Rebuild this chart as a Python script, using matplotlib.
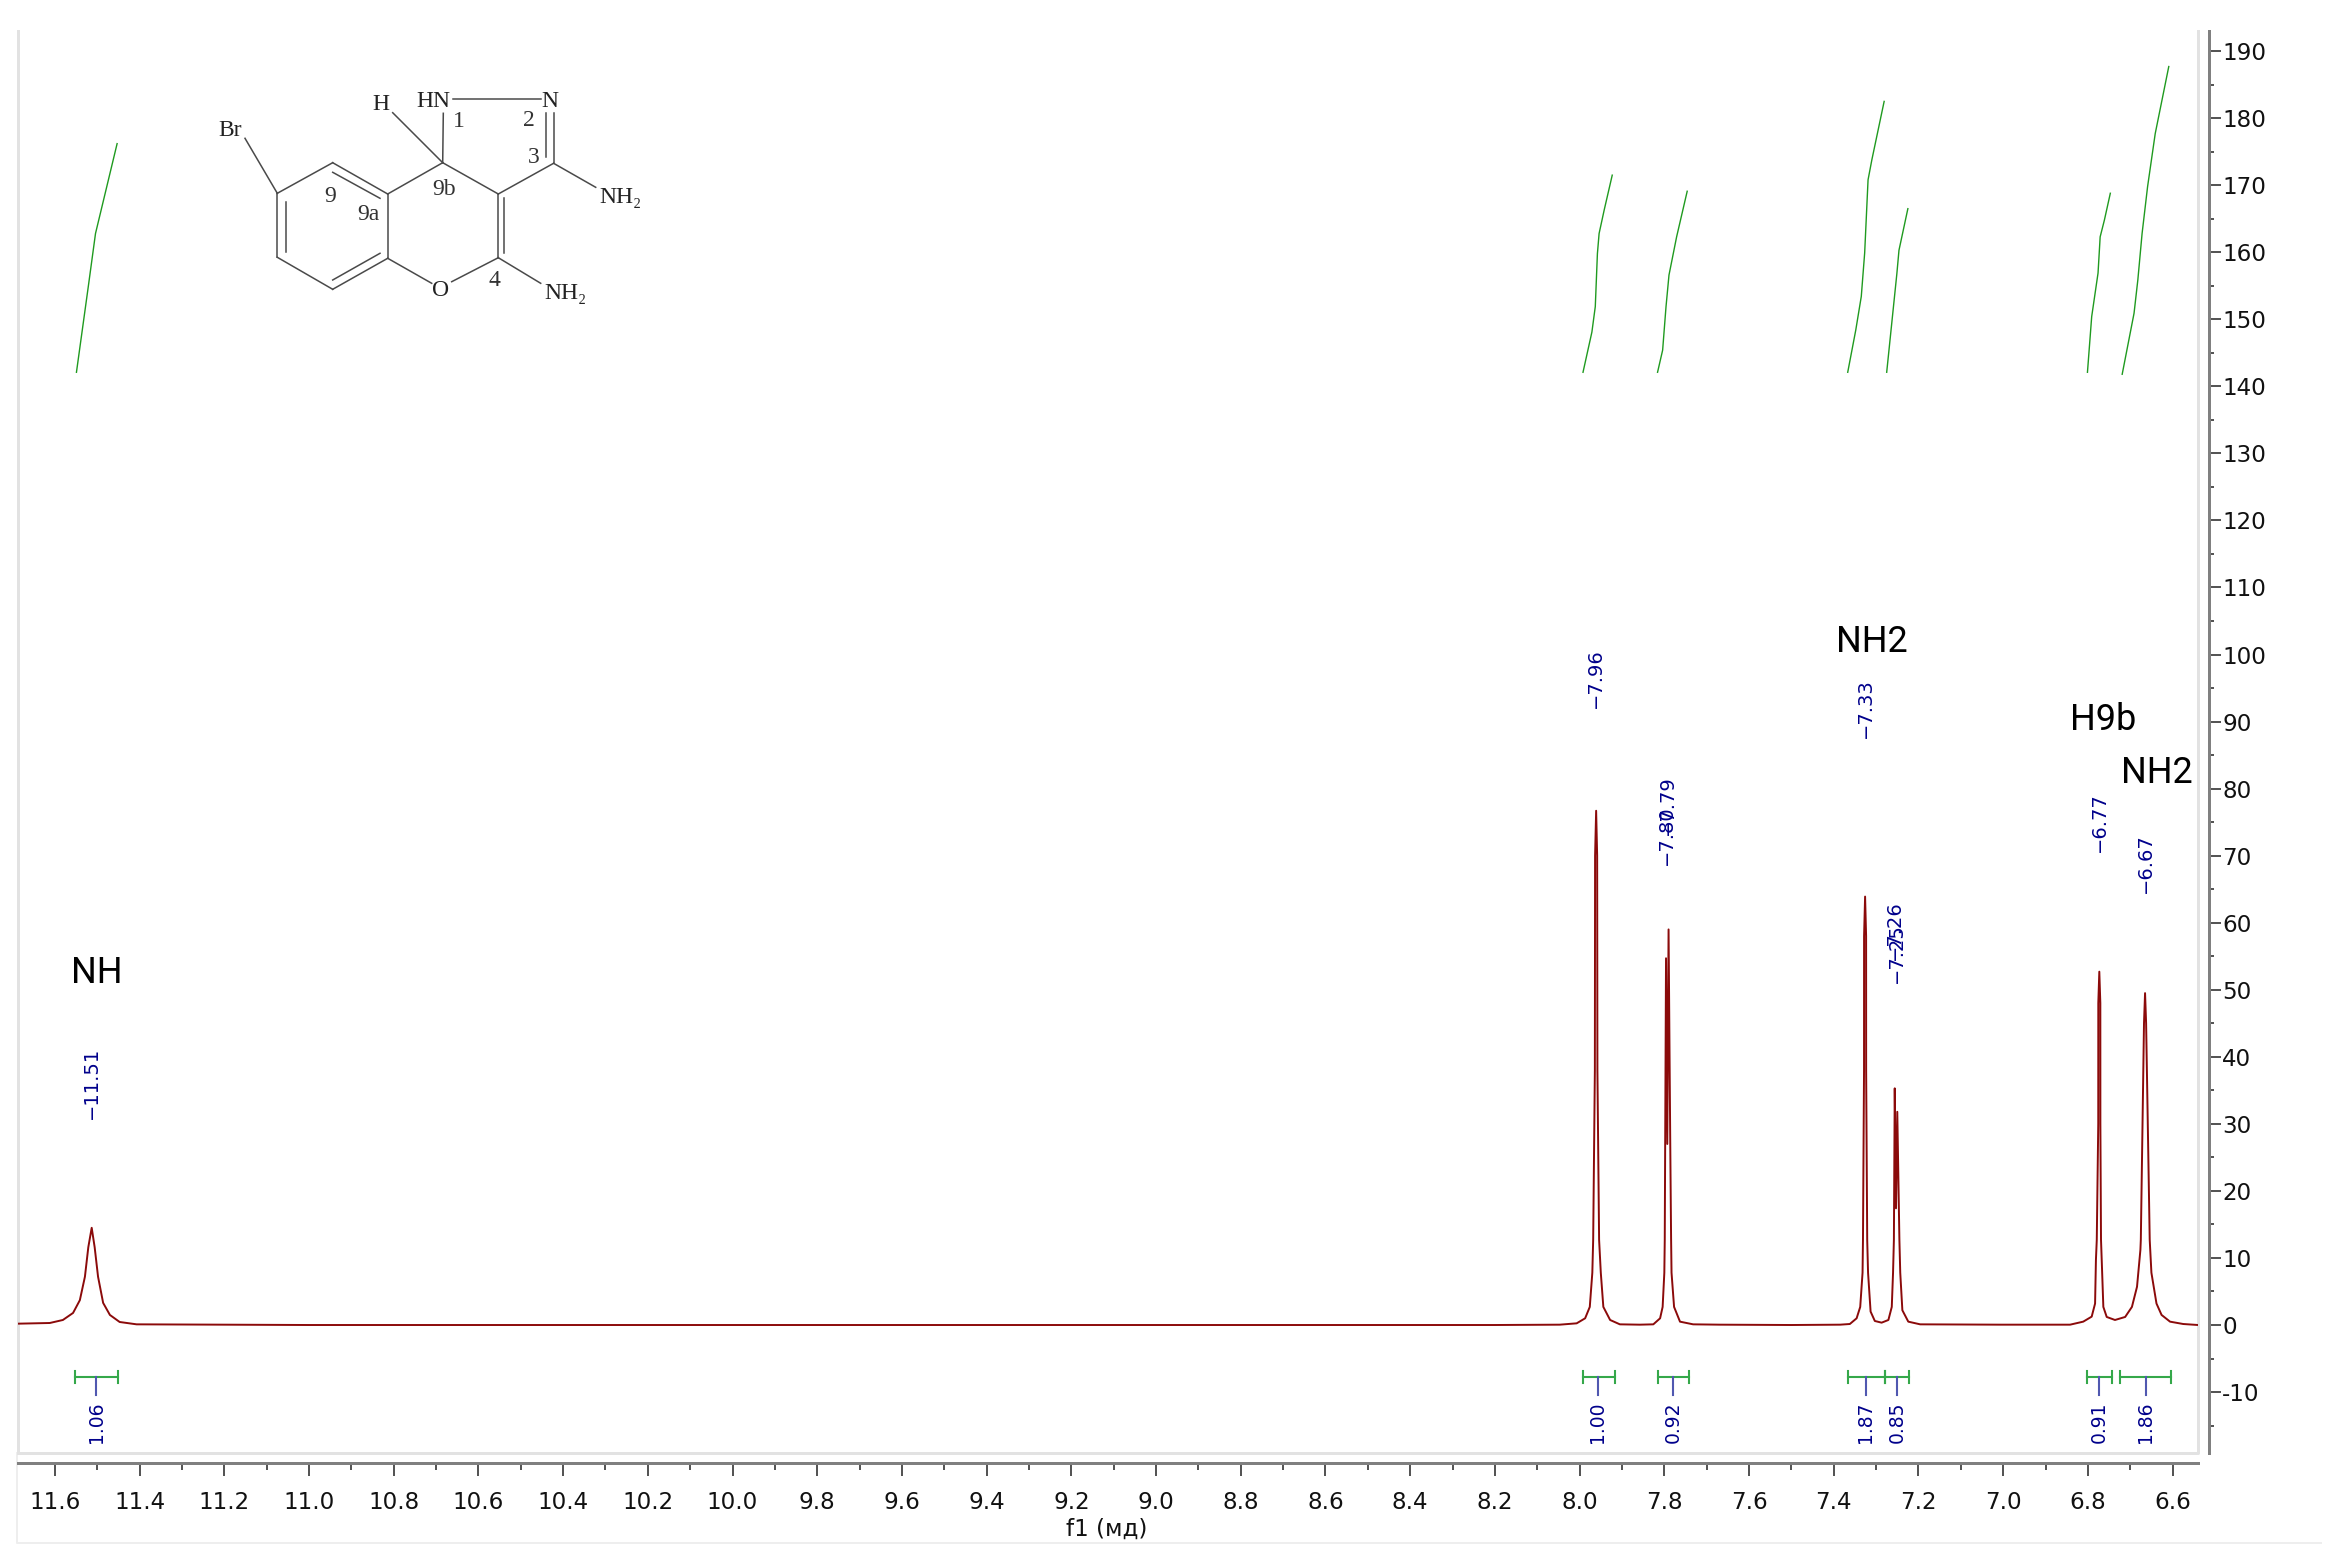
import matplotlib
matplotlib.use("Agg")
import matplotlib.pyplot as plt

W, H = 2339, 1566
DPI = 100

# ---------- spectrum ----------
spec_ppm = [11.687, 11.612, 11.581, 11.557, 11.541, 11.529, 11.521, 11.513, 11.506, 11.498, 11.486, 11.470, 11.447, 11.407, 11.0, 10.0, 9.0, 8.2,
            8.047, 8.007, 7.987, 7.976, 7.970, 7.968, 7.964, 7.9635, 7.961, 7.9586, 7.958, 7.954, 7.950, 7.944, 7.928, 7.905, 7.858,
            7.826, 7.810, 7.804, 7.800, 7.799, 7.798, 7.796, 7.793, 7.790, 7.786, 7.784, 7.783, 7.777, 7.763, 7.732, 7.669, 7.5,
            7.385, 7.362, 7.346, 7.3375, 7.332, 7.331, 7.3285, 7.3284, 7.326, 7.3236, 7.3235, 7.321, 7.319, 7.313, 7.303, 7.287, 7.271,
            7.263, 7.260, 7.258, 7.256, 7.253, 7.250, 7.245, 7.243, 7.238, 7.224, 7.196, 7.007,
            6.842, 6.811, 6.791, 6.783, 6.781, 6.779, 6.7755, 6.7754, 6.773, 6.7706, 6.7705, 6.769, 6.7665, 6.7635, 6.7555, 6.736,
            6.712, 6.696, 6.684, 6.676, 6.675, 6.6675, 6.665, 6.6625, 6.654, 6.650, 6.638, 6.626, 6.606, 6.575, 6.540]
spec_int = [0.2, 0.3, 0.75, 1.8, 3.7, 7.2, 11.6, 14.5, 11.6, 7.2, 3.3, 1.5, 0.45, 0.1, 0.0, 0.0, 0.0, 0.0,
            0.05, 0.25, 1.0, 2.7, 7.8, 12.7, 38, 70, 76.7, 70, 38, 12.7, 7.8, 2.7, 0.75, 0.1, 0.05,
            0.1, 1.0, 2.7, 7.8, 12.7, 27, 54.7, 27, 59, 27, 12.7, 7.8, 2.7, 0.5, 0.1, 0.05, 0.0,
            0.05, 0.15, 1.0, 2.7, 7.8, 12.7, 38, 58, 63.9, 58, 38, 12.7, 7.8, 2.0, 0.6, 0.35, 0.75,
            2.7, 7.8, 12.7, 35.3, 17.4, 31.8, 12.7, 7.8, 2.2, 0.5, 0.1, 0.05,
            0.05, 0.5, 1.25, 3.2, 9.7, 12.7, 30, 48, 52.7, 48, 30, 12.7, 8.2, 2.7, 1.2, 0.75,
            1.2, 2.7, 5.7, 11.2, 12.7, 45, 49.5, 45, 12.7, 7.8, 3.2, 1.5, 0.5, 0.15, 0.0]

# ---------- integral curves ----------
int_a_ppm = [11.549, 11.521, 11.504, 11.453]
int_a_val = [142.1, 154.9, 162.8, 176.2]
int_b_ppm = [7.992, 7.971, 7.963, 7.958, 7.954, 7.942, 7.923]
int_b_val = [142.1, 148.1, 151.9, 159.8, 162.8, 166.3, 171.5]
int_c_ppm = [7.816, 7.804, 7.796, 7.789, 7.771, 7.746]
int_c_val = [142.1, 145.4, 151.9, 156.6, 162.3, 169.1]
int_d_ppm = [7.367, 7.348, 7.335, 7.327, 7.319, 7.310, 7.281]
int_d_val = [142.1, 148.4, 153.4, 159.9, 170.8, 173.8, 182.5]
int_e_ppm = [7.275, 7.259, 7.251, 7.246, 7.225]
int_e_val = [142.1, 151.9, 156.8, 160.3, 166.5]
int_f_ppm = [6.801, 6.791, 6.776, 6.771, 6.761, 6.747]
int_f_val = [142.1, 150.4, 156.9, 162.3, 164.8, 168.8]
int_g_ppm = [6.719, 6.691, 6.682, 6.672, 6.659, 6.641, 6.609]
int_g_val = [141.8, 150.9, 155.9, 162.8, 169.8, 177.7, 187.7]

# ---------- peak labels ----------
peak_text = ["11.51", "7.96", "7.80", "7.79", "7.33", "7.26", "7.25", "6.77", "6.67"]
peak_ppm = [11.513, 7.962, 7.796, 7.793, 7.326, 7.256, 7.251, 6.773, 6.665]
peak_base = [30.7, 92, 68.6, 73.1, 87.5, 54.4, 51, 70.5, 64.4]

# ---------- integration brackets ----------
area_text = ["1.06", "1.00", "0.92", "1.87", "0.85", "0.91", "1.86"]
area_from = [11.553, 7.992, 7.816, 7.367, 7.279, 6.802, 6.725]
area_to = [11.451, 7.917, 7.742, 7.279, 7.222, 6.744, 6.603]
area_mid = [11.502, 7.957, 7.780, 7.324, 7.251, 6.773, 6.663]

# ---------- assignments ----------
assign_text = ["NH", "NH2", "H9b", "NH2"]
assign_ppm = [11.501, 7.310, 6.764, 6.636]
assign_val = [52.5, 101.9, 90.2, 82.3]

x_major = [11.6, 11.4, 11.2, 11.0, 10.8, 10.6, 10.4, 10.2, 10.0, 9.8, 9.6, 9.4, 9.2, 9.0, 8.8, 8.6, 8.4, 8.2, 8.0, 7.8, 7.6, 7.4, 7.2, 7.0, 6.8, 6.6]
x_labels = ["11.6", "11.4", "11.2", "11.0", "10.8", "10.6", "10.4", "10.2", "10.0", "9.8", "9.6", "9.4", "9.2", "9.0", "8.8", "8.6", "8.4", "8.2", "8.0", "7.8", "7.6", "7.4", "7.2", "7.0", "6.8", "6.6"]
x_minor = [11.5, 11.3, 11.1, 10.9, 10.7, 10.5, 10.3, 10.1, 9.9, 9.7, 9.5, 9.3, 9.1, 8.9, 8.7, 8.5, 8.3, 8.1, 7.9, 7.7, 7.5, 7.3, 7.1, 6.9, 6.7]
y_major = [-10, 0, 10, 20, 30, 40, 50, 60, 70, 80, 90, 100, 110, 120, 130, 140, 150, 160, 170, 180, 190]
y_labels = ["-10", "0", "10", "20", "30", "40", "50", "60", "70", "80", "90", "100", "110", "120", "130", "140", "150", "160", "170", "180", "190"]
y_minor = [-15, -5, 5, 15, 25, 35, 45, 55, 65, 75, 85, 95, 105, 115, 125, 135, 145, 155, 165, 175, 185]

# ---------- structure drawing (picture pixels) ----------
bonds = [
    ((277.3, 193.3), (332.7, 162.7)), ((332.7, 162.7), (387.7, 194)), ((387.7, 194), (387.7, 258.3)),
    ((387.7, 258.3), (332.7, 289.3)), ((332.7, 289.3), (277.3, 257.3)), ((277.3, 257.3), (277.3, 193.3)),
    ((332.7, 172.3), (380, 198.3)), ((286, 201.7), (286, 251.7)), ((332.7, 280), (380, 253.3)),
    ((387.7, 194), (442.7, 162.7)), ((442.7, 162.7), (498.3, 194)), ((498.3, 194), (498.3, 257.7)),
    ((504.3, 198.3), (504.3, 253.3)), ((387.7, 258.3), (431.7, 283.3)), ((451.7, 281.7), (498.3, 257.7)),
    ((498.3, 194), (553.6, 163.3)), ((553.6, 163.3), (553.6, 113.3)), ((545.5, 156.7), (545.5, 113.3)),
    ((442.7, 162.7), (443.3, 113.3)), ((452.7, 99.3), (540.7, 99.3)), ((442.7, 162.7), (392.7, 112.7)),
    ((245, 138.3), (277.3, 193.3)), ((553.6, 163.3), (595.7, 187.3)), ((498.3, 257.7), (540.7, 283.3)),
]
atoms = [("Br", 230.6, 130.7), ("H", 380.7, 104), ("HN", 433, 101.7), ("N", 550, 101.7), ("O", 441, 291),
         ("NH\u2082", 620.6, 197.3), ("NH\u2082", 565.6, 293.3)]
locants = [("1", 459, 121.7), ("2", 528.7, 120), ("3", 533.5, 157.3), ("9b", 444.3, 189.3), ("9", 330, 196),
           ("9a", 368.3, 215), ("4", 494.3, 280)]

RED = "#8b0a0a"
GREEN = "#1f9a1f"
BRACKET = "#35a84a"
BLUE = "#00008b"
STEM = "#5058b0"
LIGHT = "#e2e2e2"
GRAY = "#808080"

fig = plt.figure(figsize=(W / DPI, H / DPI), dpi=DPI, facecolor="white")
px = 72 / DPI

L, R, T, B = 18, 2198, 31, 1453
ax = fig.add_axes([L / W, 1 - B / H, (R - L) / W, (B - T) / H])
ax.set_xlim(11.687, 6.540)
ax.set_ylim(-19.09, 193.0)
ax.patch.set_alpha(0)

ax.spines["top"].set_visible(False)
ax.spines["left"].set_color(LIGHT)
ax.spines["left"].set_linewidth(3 * px)
ax.spines["bottom"].set_position(("outward", 10 * px))
ax.spines["bottom"].set_color(GRAY)
ax.spines["bottom"].set_linewidth(3 * px)
ax.yaxis.tick_right()
ax.spines["right"].set_position(("outward", 11 * px))
ax.spines["right"].set_color(GRAY)
ax.spines["right"].set_linewidth(3 * px)

ax.set_xticks(x_major, x_labels)
ax.set_xticks(x_minor, minor=True)
ax.set_yticks(y_major, y_labels)
ax.set_yticks(y_minor, minor=True)
ax.tick_params(axis="x", which="major", length=13 * px, width=2 * px, color="#555555", pad=15 * px, labelsize=16.6, labelcolor="#111111")
ax.tick_params(axis="x", which="minor", length=7 * px, width=2 * px, color="#555555")
ax.tick_params(axis="y", which="major", length=12 * px, width=2 * px, color="#555555", pad=1 * px, labelsize=16.6, labelcolor="#111111")
ax.tick_params(axis="y", which="minor", length=5 * px, width=2 * px, color="#555555")
ax.set_xlabel("f1 (мд)", fontsize=16.6, color="#111111", va="center")
ax.xaxis.set_label_coords((1107 - L) / (R - L), (B - 1529) / (B - T))

ax.plot(spec_ppm, spec_int, color=RED, lw=1.4, solid_joinstyle="round", zorder=3)

for xs, ys in [(int_a_ppm, int_a_val), (int_b_ppm, int_b_val), (int_c_ppm, int_c_val), (int_d_ppm, int_d_val),
               (int_e_ppm, int_e_val), (int_f_ppm, int_f_val), (int_g_ppm, int_g_val)]:
    ax.plot(xs, ys, color=GREEN, lw=1.0, zorder=3)

for t, x, y in zip(peak_text, peak_ppm, peak_base):
    ax.text(x, y, "\u2212" + t, rotation=90, ha="center", va="bottom", color=BLUE, fontsize=14, zorder=4)

BR_Y, CAP, STEM_END, AREA_TOP = -7.7, 0.9, -10.4, -11.4
for t, a, b, m in zip(area_text, area_from, area_to, area_mid):
    ax.plot([a, b], [BR_Y, BR_Y], color=BRACKET, lw=1.5, zorder=3)
    ax.plot([a, a], [BR_Y - CAP, BR_Y + CAP], color=BRACKET, lw=1.5, zorder=3)
    ax.plot([b, b], [BR_Y - CAP, BR_Y + CAP], color=BRACKET, lw=1.5, zorder=3)
    ax.plot([m, m], [BR_Y, STEM_END], color=STEM, lw=1.5, zorder=3)
    ax.text(m, AREA_TOP, t, rotation=90, ha="center", va="top", color=BLUE, fontsize=13.5, zorder=4)

for t, x, y in zip(assign_text, assign_ppm, assign_val):
    ax.text(x, y, t, ha="center", va="center", color="black", fontsize=26, family="Roboto", zorder=4)

# overlay in picture pixels: panel frame and the structure sketch
ov = fig.add_axes([0, 0, 1, 1], zorder=-1)
ov.set_xlim(0, W)
ov.set_ylim(H, 0)
ov.axis("off")
ov.plot([L, R, R], [B, B, T], color=LIGHT, lw=3 * px)
ov.plot([17, 17, 2321], [B, 1543, 1543], color="#eeeeee", lw=2 * px)

for (x0, y0), (x1, y1) in bonds:
    ov.plot([x0, x1], [y0, y1], color="#4a4a4a", lw=1.1)
for t, x, y in atoms:
    ov.text(x, y, t, ha="center", va="center", fontsize=17, color="#222222", family=["Liberation Serif", "DejaVu Serif"])
for t, x, y in locants:
    ov.text(x, y, t, ha="center", va="center", fontsize=17, color="#333333", family="Liberation Serif")

fig.savefig("out.png", dpi=DPI, facecolor="white")
